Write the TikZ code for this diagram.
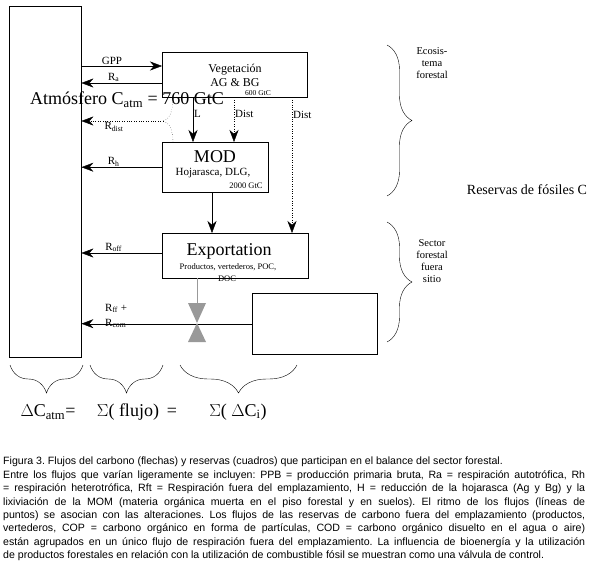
\documentclass[tikz,border=0pt]{standalone}
\usepackage{fontspec}
\setmainfont{Liberation Serif}
\newfontfamily\capfont{Liberation Sans}
\usetikzlibrary{arrows.meta,positioning,calc,decorations.pathreplacing}

\begin{document}
\frenchspacing
\begin{tikzpicture}[x=1pt,y=-1pt,
  box/.style={draw,rectangle,inner sep=0pt,anchor=north west},
  msg/.style={-{Stealth[length=12pt,width=9pt]}},
  dst/.style={msg,dotted},
  lab/.style={font=\fontsize{11}{13}\selectfont,inner sep=1pt},
  big/.style={font=\fontsize{18}{20}\selectfont,inner sep=0pt},
  sml/.style={font=\fontsize{8.5}{10}\selectfont,inner sep=0pt},
  brc/.style={decorate,decoration={brace,amplitude=25pt}},
  valve/.style={fill=black!40},
]
  \useasboundingbox (0,0) rectangle (590,562);

  % reservoirs
  \node[box,minimum width=72pt,minimum height=351pt] (atm) at (9,6) {};
  \node[box,minimum width=145pt,minimum height=45pt] (veg) at (162,52) {};
  \node[box,minimum width=106pt,minimum height=50pt] (mod) at (162,142) {};
  \node[box,minimum width=146pt,minimum height=45pt] (exp) at (162,233) {};
  \node[box,minimum width=125pt,minimum height=61pt] (fos) at (252,293) {};

  \node[font=\fontsize{12}{14}\selectfont,align=center,inner sep=0pt] at (235,75) {Vegetación\\AG \& BG};
  \node[font=\fontsize{7.5}{9}\selectfont,inner sep=0pt] at (258,93) {600 GtC};
  \node[font=\fontsize{18}{20}\selectfont,inner sep=0pt] at (127,100) {Atmósfero C\textsubscript{atm} = 760 GtC};
  \node[big] at (215,157) {MOD};
  \node[font=\fontsize{11}{13}\selectfont,inner sep=0pt] at (213,173) {Hojarasca, DLG,};
  \node[sml] at (246,186) {2000 GtC};
  \node[big] at (229,251) {Exportation};
  \node[sml] at (228,267) {Productos, vertederos, POC,};
  \node[sml] at (227,279) {DOC};

  % fluxes
  \draw[msg] (atm.east |- 0,66) -- node[lab,above,pos=0.38]{GPP} (veg.west |- 0,66);
  \draw[msg] (veg.west |- 0,83) -- node[lab,above,pos=0.6]{R\textsubscript{a}} (atm.east |- 0,83);
  \draw[msg] (mod.west) -- node[lab,above,pos=0.6]{R\textsubscript{h}} (atm.east |- mod.west);
  \draw[msg] (exp.west |- 0,253) -- node[lab,above,pos=0.6]{R\textsubscript{off}} (atm.east |- 0,253);
  \draw[msg] (fos.west) -- (atm.east |- fos.west);
  \node[lab,align=left,anchor=west,font=\fontsize{11}{15}\selectfont] at (104,316) {R\textsubscript{ff} +\\R\textsubscript{com}};

  \draw[msg] (veg.south -| 193,0) -- node[lab,right,pos=0.38]{L} (mod.north -| 193,0);
  \draw[dst] (veg.south -| 234,0) -- node[lab,right,pos=0.38]{Dist} (mod.north -| 234,0);
  \draw[dst] (veg.south -| 292,0) -- node[lab,right,pos=0.13]{Dist} (exp.north -| 292,0);
  \draw[msg] (mod.south -| 212,0) -- (exp.north -| 212,0);

  % disturbance respiration
  \coordinate (rdj) at (163,121);
  \draw[dotted] (veg.south -| 173,0) .. controls (173,114) and (168,120) .. (rdj);
  \draw[dotted] (mod.north -| 173,0) .. controls (173,128) and (168,122) .. (rdj);
  \draw[dst] (rdj) -- node[lab,below,pos=0.6]{R\textsubscript{dist}} (atm.east |- rdj);

  % control valve
  \coordinate (vc) at (197,323);
  \draw[black!40] (exp.south -| vc) -- (vc |- 0,303);
  \fill[valve] (188,303) -- (206,303) -- (vc) -- cycle;
  \fill[valve] (vc) -- (188,342) -- (206,342) -- cycle;

  % braces
  \draw[brc] (387,45) -- (387,196);
  \draw[brc] (387,222) -- (387,342);
  \node[lab,align=center,font=\fontsize{10.5}{12}\selectfont] at (432,63) {Ecosis-\\tema\\forestal};
  \node[lab,align=center,font=\fontsize{10.5}{12}\selectfont] at (432,261) {Sector\\forestal\\fuera\\sitio};
  \node[font=\fontsize{14}{16}\selectfont,inner sep=0pt] at (527,190) {Reservas de fósiles C};

  \draw[brc,decoration={amplitude=28pt}] (83,365) -- (10,365);
  \draw[brc,decoration={amplitude=28pt}] (163,365) -- (90,365);
  \draw[brc,decoration={amplitude=28pt}] (297,365) -- (180,365);
  \foreach \x/\txt in {48/{$\Delta$C\textsubscript{atm}=},128/{$\Sigma$( flujo)},172/{=},238/{$\Sigma$( $\Delta$C\textsubscript{i})}}
    \node[font=\fontsize{18}{20}\selectfont,inner sep=0pt] at (\x,412) {\txt};

  % caption
  \node[anchor=north west,inner sep=0pt,text width=582pt,align=justify,
        font=\capfont\fontsize{10.6}{13.4}\selectfont] (cap) at (3,457) {%
Figura 3. Flujos del carbono (flechas) y reservas (cuadros) que participan en el balance del sector forestal.\\
Entre los flujos que varían ligeramente se incluyen: PPB = producción primaria bruta, Ra = respiración autotrófica, Rh\linebreak
= respiración heterotrófica, Rft = Respiración fuera del emplazamiento, H = reducción de la hojarasca (Ag y Bg) y la\linebreak
lixiviación de la MOM (materia orgánica muerta en el piso forestal y en suelos). El ritmo de los flujos (líneas de\linebreak
puntos) se asocian con las alteraciones. Los flujos de las reservas de carbono fuera del emplazamiento (productos,\linebreak
vertederos, COP = carbono orgánico en forma de partículas, COD = carbono orgánico disuelto en el agua o aire)\linebreak
están agrupados en un único flujo de respiración fuera del emplazamiento. La influencia de bioenergía y la utilización\linebreak
de productos forestales en relación con la utilización de combustible fósil se muestran como una válvula de control.};
\end{tikzpicture}
\end{document}
